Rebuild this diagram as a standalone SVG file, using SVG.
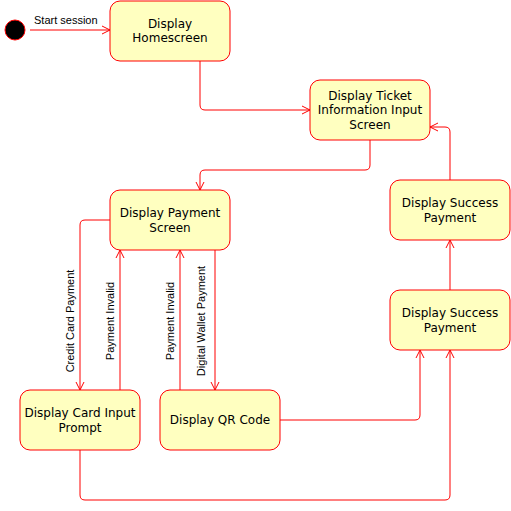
<svg xmlns="http://www.w3.org/2000/svg" width="511" height="511" viewBox="0 0 511 511">
<defs>
<marker id="open" markerUnits="userSpaceOnUse" markerWidth="12" markerHeight="12" refX="10" refY="6" orient="auto" overflow="visible">
<path d="M2,2 L10,6 L2,10" fill="none" stroke="#FF0000" stroke-width="1"/>
</marker>
<style>
.node rect{fill:#FFFFC0;stroke:#FF0000;stroke-width:1}
.node text{font-family:"DejaVu Sans",Verdana,sans-serif;font-size:12px;fill:#000;text-anchor:middle}
.edge{fill:none;stroke:#FF0000;stroke-width:1;marker-end:url(#open)}
.lbl{font-family:"Liberation Sans",Arial,sans-serif;font-size:11px;fill:#000}
</style>
</defs>
<rect width="511" height="511" fill="#FFFFFF"/>
<g id="start"><circle cx="15" cy="30" r="10" fill="#000000" stroke="#FF0000" stroke-width="1"/></g>
<g id="connectors">
<path class="edge" d="M30,30 H110"/>
<path class="edge" d="M200,61 V105 Q200,110 205,110 H310"/>
<path class="edge" d="M370,140 V165 Q370,170 365,170 H205 Q200,170 200,175 V190"/>
<path class="edge" d="M110,220 H85 Q80,220 80,225 V390"/>
<path class="edge" d="M120,390 V250"/>
<path class="edge" d="M180,390 V250"/>
<path class="edge" d="M215,250 V390"/>
<path class="edge" d="M280,420 H415 Q420,420 420,415 V350"/>
<path class="edge" d="M80,450 V495 Q80,500 85,500 H445 Q450,500 450,495 V350"/>
<path class="edge" d="M450,290 V240"/>
<path class="edge" d="M450,180 V132 Q450,127 445,127 H430"/>
<text class="lbl" x="34" y="24">Start session</text>
<text class="lbl" text-anchor="middle" transform="translate(74,321) rotate(-90)">Credit Card Payment</text>
<text class="lbl" text-anchor="middle" transform="translate(114,321) rotate(-90)">Payment Invalid</text>
<text class="lbl" text-anchor="middle" transform="translate(174,321) rotate(-90)">Payment Invalid</text>
<text class="lbl" text-anchor="middle" transform="translate(205,321) rotate(-90)">Digital Wallet Payment</text>
</g>
<g id="homescreen" class="node"><rect x="110" y="1" width="120" height="60" rx="10"/><text x="170" y="27.5">Display</text><text x="170" y="42">Homescreen</text></g>
<g id="ticket" class="node"><rect x="310" y="80" width="120" height="60" rx="10"/><text x="370" y="99.5">Display Ticket</text><text x="370" y="114">Information Input</text><text x="370" y="128.5">Screen</text></g>
<g id="payment" class="node"><rect x="110" y="190" width="120" height="60" rx="10"/><text x="170" y="216.5">Display Payment</text><text x="170" y="231.5">Screen</text></g>
<g id="success1" class="node"><rect x="390" y="180" width="120" height="60" rx="10"/><text x="450" y="206.5">Display Success</text><text x="450" y="221.5">Payment</text></g>
<g id="success2" class="node"><rect x="390" y="290" width="120" height="60" rx="10"/><text x="450" y="316.5">Display Success</text><text x="450" y="331.5">Payment</text></g>
<g id="card" class="node"><rect x="20" y="390" width="120" height="60" rx="10"/><text x="80" y="416.5">Display Card Input</text><text x="80" y="431.5">Prompt</text></g>
<g id="qr" class="node"><rect x="160" y="390" width="120" height="60" rx="10"/><text x="220" y="423.5">Display QR Code</text></g>
</svg>
